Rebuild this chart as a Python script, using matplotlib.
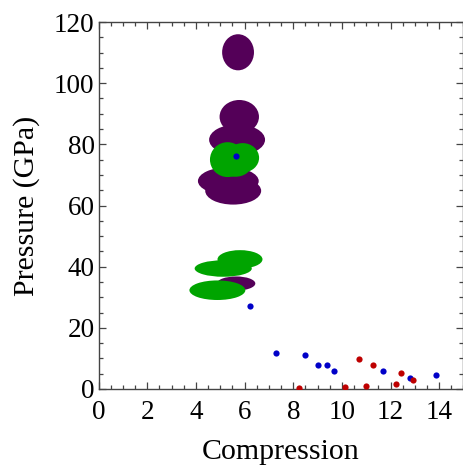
import matplotlib
matplotlib.use("Agg")
import matplotlib.pyplot as plt
from matplotlib.patches import Ellipse
from matplotlib.ticker import MultipleLocator

plt.rcParams['font.family'] = ['Liberation Serif', 'DejaVu Serif']

# Purple error regions: center x, center y, width, height (data units)
purple_x = [5.73, 5.78, 5.69, 5.33, 5.53, 5.65]
purple_y = [110.1, 89.0, 81.5, 68.0, 64.8, 34.5]
purple_w = [1.31, 1.62, 2.30, 2.50, 2.30, 1.58]
purple_h = [11.8, 11.0, 10.0, 9.0, 9.0, 4.6]

# Green error regions
green_x = [5.30, 5.92, 5.62, 5.12, 5.81, 4.88]
green_y = [75.0, 75.6, 73.2, 39.4, 42.4, 32.3]
green_w = [1.45, 1.35, 1.30, 2.35, 1.85, 2.30]
green_h = [11.4, 9.6, 7.6, 5.4, 6.0, 6.4]

# Blue points
blue_x = [5.63, 6.24, 7.31, 8.50, 9.02, 9.40, 9.66, 11.70, 12.79, 13.85]
blue_y = [76.1, 27.1, 11.7, 11.2, 7.8, 7.8, 5.8, 5.8, 3.7, 4.5]

# Red points
red_x = [8.24, 10.12, 10.71, 11.00, 11.28, 12.22, 12.43, 12.91]
red_y = [0.4, 0.75, 9.9, 1.1, 7.7, 1.5, 5.3, 2.8]

purple = '#540058'
green = '#00A400'
blue = '#0000C8'
red = '#BE0000'

fig = plt.figure(figsize=(4.64, 4.68), dpi=100)
ax = fig.add_axes([98.7/464, 1-389/468, (463.5-98.7)/464, (389-22)/468])

for x, y, w, h in zip(purple_x, purple_y, purple_w, purple_h):
    ax.add_patch(Ellipse((x, y), w, h, facecolor=purple, edgecolor='none', zorder=2))
for x, y, w, h in zip(green_x, green_y, green_w, green_h):
    ax.add_patch(Ellipse((x, y), w, h, facecolor=green, edgecolor='none', zorder=3))

ax.scatter(blue_x, blue_y, s=20, color=blue, zorder=5, linewidths=0)
ax.scatter(red_x, red_y, s=20, color=red, zorder=5, linewidths=0)

ax.set_xlim(0, 15)
ax.set_ylim(0, 120)
ax.xaxis.set_major_locator(MultipleLocator(2))
ax.xaxis.set_minor_locator(MultipleLocator(0.5))
ax.yaxis.set_major_locator(MultipleLocator(20))
ax.yaxis.set_minor_locator(MultipleLocator(5))
ax.set_xticks(range(0, 15, 2))

ax.tick_params(which='both', direction='in', top=True, right=True, color='#444444',
               width=0.9)
ax.tick_params(which='major', length=5, labelsize=19.5)
ax.tick_params(axis='x', which='major', pad=8)
ax.tick_params(axis='y', which='major', pad=3)
ax.tick_params(which='minor', length=3)
for sp in ax.spines.values():
    sp.set_color('#444444')
    sp.set_linewidth(1.0)

ax.set_xlabel('Compression', fontsize=21.5, labelpad=10)
ax.set_ylabel('Pressure (GPa)', fontsize=21.5, labelpad=10)

fig.savefig('out.png', dpi=100)
